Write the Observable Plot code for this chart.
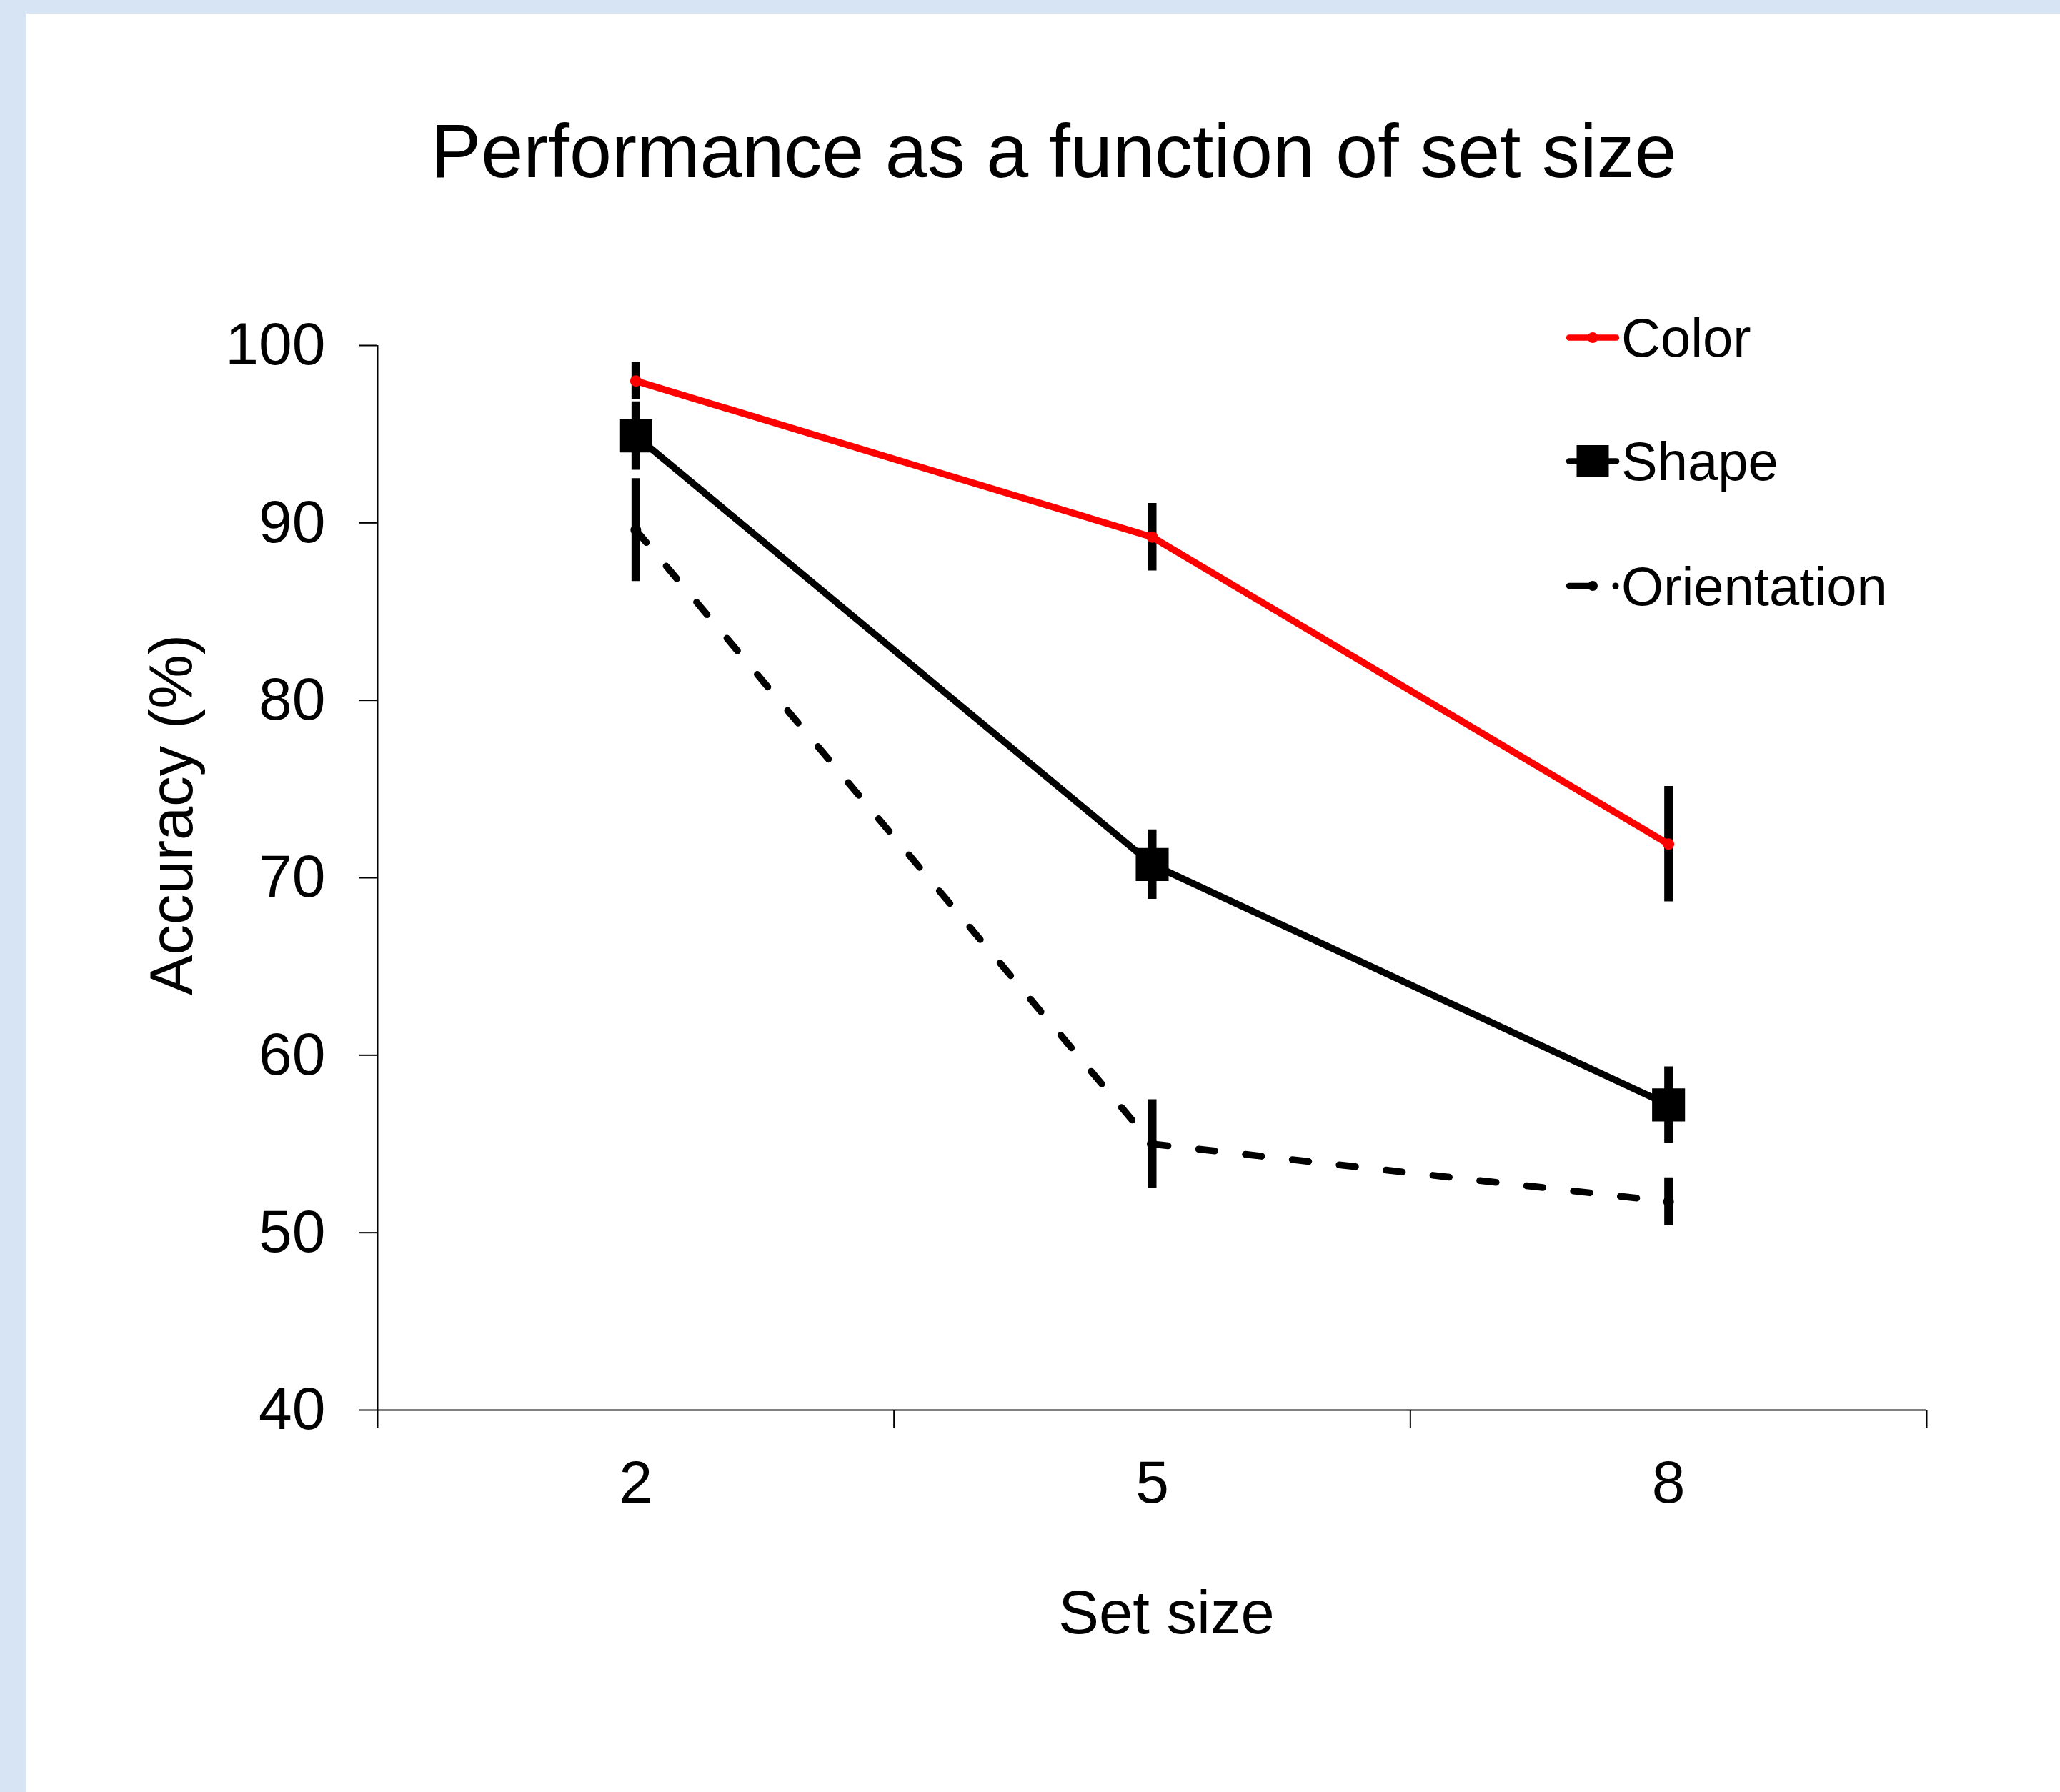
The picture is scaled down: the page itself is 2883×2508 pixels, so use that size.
<!DOCTYPE html>
<html>
<head>
<meta charset="utf-8">
<script src="https://cdn.jsdelivr.net/npm/d3@7"></script>
<script src="https://cdn.jsdelivr.net/npm/@observablehq/plot@0.6"></script>
<style>
  html, body { margin: 0; padding: 0; width: 2883px; height: 2508px; overflow: hidden; background: #d7e4f4; }
  #panel { position: absolute; left: 37px; top: 19px; right: 0; bottom: 0; background: #ffffff; }
  #title { position: absolute; left: 1437.5px; top: 139px; transform: translateX(-50%); white-space: nowrap;
           font-family: "Liberation Sans", Arial, sans-serif; font-size: 106px; line-height: 1; color: #000; }
  #chart { position: absolute; left: 0; top: 281px; }
</style>
</head>
<body>
<div id="panel">
  <div id="title">Performance as a function of set size</div>
  <div id="chart"></div>
</div>
<script>
// ---- data ----
const setSizes   = [2, 5, 8];
const seriesNames = ["Color", "Shape", "Orientation"];
const colorAcc   = [98.0, 89.2, 71.9];
const colorErr   = [1.05, 1.9, 3.25];
const shapeAcc   = [94.9, 70.75, 57.2];
const shapeErr   = [1.93, 1.96, 2.15];
const orientAcc  = [89.6, 55.0, 51.75];
const orientErr  = [2.9, 2.5, 1.35];
const yTicks     = [40, 50, 60, 70, 80, 90, 100];
const yDomain    = [40, 100];
const xDomain    = [0.5, 9.5];
const xBounds    = [0.5, 3.5, 6.5, 9.5];
const xTitle     = "Set size";
const yTitle     = "Accuracy (%)";

const rowsOf = (name, acc, err) => setSizes.map((s, i) => ({series: name, size: s, acc: acc[i], err: err[i]}));
const colorRows  = rowsOf(seriesNames[0], colorAcc, colorErr);
const shapeRows  = rowsOf(seriesNames[1], shapeAcc, shapeErr);
const orientRows = rowsOf(seriesNames[2], orientAcc, orientErr);
const allRows = [...colorRows, ...shapeRows, ...orientRows];

const FONT = "'Liberation Sans', Arial, sans-serif";
const LW = 9.5;

const chart = Plot.plot({
  width: 2846,
  height: 2208,
  marginLeft: 491,
  marginRight: 187,
  marginTop: 183,
  marginBottom: 535,
  x: {type: "linear", domain: xDomain, axis: null},
  y: {type: "linear", domain: yDomain, axis: null},
  style: {fontFamily: FONT, fontSize: "84px", color: "#000", background: "transparent", overflow: "visible"},
  marks: [
    // axes
    Plot.axisY(yTicks, {anchor: "left", tickSize: 26, tickPadding: 47, strokeWidth: 2, label: null, fontSize: 84, tickFormat: d => String(d)}),
    Plot.axisX(xBounds, {anchor: "bottom", tickSize: 26, tickFormat: () => "", strokeWidth: 2, label: null}),
    Plot.axisX(setSizes, {anchor: "bottom", tickSize: 0, tickPadding: 70, label: null, fontSize: 84, tickFormat: d => String(d)}),
    Plot.ruleX([xDomain[0]], {stroke: "#000", strokeWidth: 2}),
    Plot.ruleY([yDomain[0]], {stroke: "#000", strokeWidth: 2}),
    // error bars
    Plot.ruleX(allRows, {x: "size", y1: d => d.acc - d.err, y2: d => d.acc + d.err,
      stroke: "#000", strokeWidth: 12, strokeLinecap: "butt"}),
    // lines
    Plot.line(colorRows, {x: "size", y: "acc", stroke: "#ff0000", strokeWidth: LW, strokeLinejoin: "round", strokeLinecap: "round"}),
    Plot.line(shapeRows, {x: "size", y: "acc", stroke: "#000", strokeWidth: LW, strokeLinejoin: "round", strokeLinecap: "round"}),
    Plot.line(orientRows, {x: "size", y: "acc", stroke: "#000", strokeWidth: LW, strokeDasharray: "23,43", strokeLinecap: "round"}),
    // markers
    Plot.dot(colorRows, {x: "size", y: "acc", r: 8, fill: "#ff0000"}),
    Plot.dot(shapeRows, {x: "size", y: "acc", r: 26, symbol: "square", fill: "#000"}),
    Plot.dot(orientRows, {x: "size", y: "acc", r: 7.5, fill: "#000"}),
    // axis titles
    Plot.text([xTitle], {text: d => d, frameAnchor: "bottom", textAnchor: "middle", dx: 20, dy: 252, lineAnchor: "top", fontSize: 85, fill: "#000"}),
    Plot.text([yTitle], {text: d => d, frameAnchor: "left", textAnchor: "middle", rotate: -90, dx: -320, dy: -88, lineAnchor: "top", fontSize: 85, fill: "#000"})
  ]
});

// legend (drawn into the chart's svg)
const svg = d3.select(chart);
const lg = svg.append("g").attr("class", "legend").attr("font-family", FONT).attr("font-size", 76).attr("text-anchor", "start");
const legendRowsY = [172.5, 345.5, 520];
const sx0 = 2155, sx1 = 2229, scx = 2192, tx = 2232;
seriesNames.forEach((name, i) => {
  const y = legendRowsY[i];
  const g = lg.append("g");
  if (i === 0) {
    g.append("line").attr("x1", sx0 + 4).attr("x2", sx1 - 4).attr("y1", y).attr("y2", y)
      .attr("stroke", "#ff0000").attr("stroke-width", 8.5).attr("stroke-linecap", "round");
    g.append("circle").attr("cx", scx).attr("cy", y).attr("r", 7.5).attr("fill", "#ff0000");
  } else if (i === 1) {
    g.append("line").attr("x1", sx0 + 4).attr("x2", sx1 - 4).attr("y1", y).attr("y2", y)
      .attr("stroke", "#000").attr("stroke-width", 8.5).attr("stroke-linecap", "round");
    g.append("rect").attr("x", scx - 22.5).attr("y", y - 22.5).attr("width", 45).attr("height", 45).attr("fill", "#000");
  } else {
    g.append("line").attr("x1", sx0 + 4).attr("x2", scx - 4).attr("y1", y).attr("y2", y)
      .attr("stroke", "#000").attr("stroke-width", 8.5).attr("stroke-linecap", "round");
    g.append("circle").attr("cx", scx).attr("cy", y).attr("r", 7).attr("fill", "#000");
    g.append("circle").attr("cx", sx1 - 5).attr("cy", y).attr("r", 4.5).attr("fill", "#000");
  }
  g.append("text").attr("x", tx).attr("y", y).attr("dy", "0.355em").attr("text-anchor", "start").attr("fill", "#000").text(name);
});

document.getElementById("chart").appendChild(chart);
</script>
</body>
</html>
